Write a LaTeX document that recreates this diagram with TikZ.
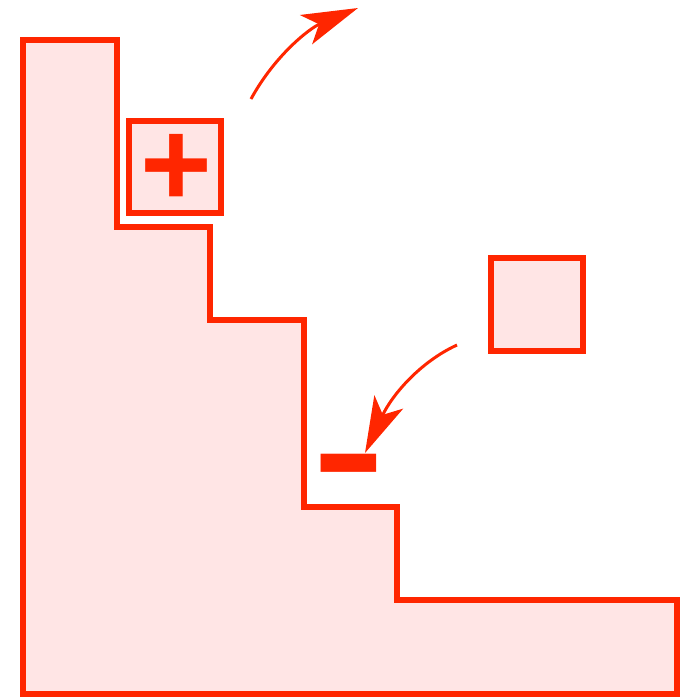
\documentclass[tikz,border=0pt]{standalone}
\usepackage{fontspec}
\setsansfont{Liberation Sans}
\usepackage{tikz}
\usetikzlibrary{arrows.meta}
\definecolor{stairred}{RGB}{255,38,0}
\definecolor{stairpink}{RGB}{255,229,229}

\begin{document}
\begin{tikzpicture}[x=0.02cm, y=-0.02cm,
    wall/.style={draw=stairred, fill=stairpink, line width=0.12cm, line join=miter},
    block/.style={wall, rectangle, minimum size=1.86cm, inner sep=0pt},
    sign/.style={stairred, inner sep=0pt, font=\sffamily\bfseries\fontsize{70}{70}\selectfont},
    move/.style={stairred, line width=0.06cm,
      -{Stealth[length=32pt, width=18pt, inset=8pt]}}]
  \useasboundingbox (0,0) rectangle (689,697);
  % Staircase
  \draw[wall] (23,40) -- (117,40) -- (117,226.5) -- (210,226.5) -- (210,320)
    -- (304,320) -- (304,506.5) -- (397,506.5) -- (397,600) -- (677,600)
    -- (677,693.5) -- (23,693.5) -- cycle;
  % Blocks
  \node[block] (plusbox) at (175,167) {};
  \node[sign] (plus) at (176,170) {+};
  \node[block] (freebox) at (537,304.5) {};
  \node[sign] (minus) at (349,486) {\scalebox{0.9}[1.35]{−}};
  % Moves
  \coordinate (outstart) at (251,99);
  \coordinate (outend) at (358,8);
  \coordinate (instart) at (457,345);
  \coordinate (inend) at (365,453);
  \draw[move] (outstart) .. controls (275,55) and (310,28) .. (outend);
  \draw[move] (instart) .. controls (420,362) and (392,395) .. (inend);
\end{tikzpicture}
\end{document}
